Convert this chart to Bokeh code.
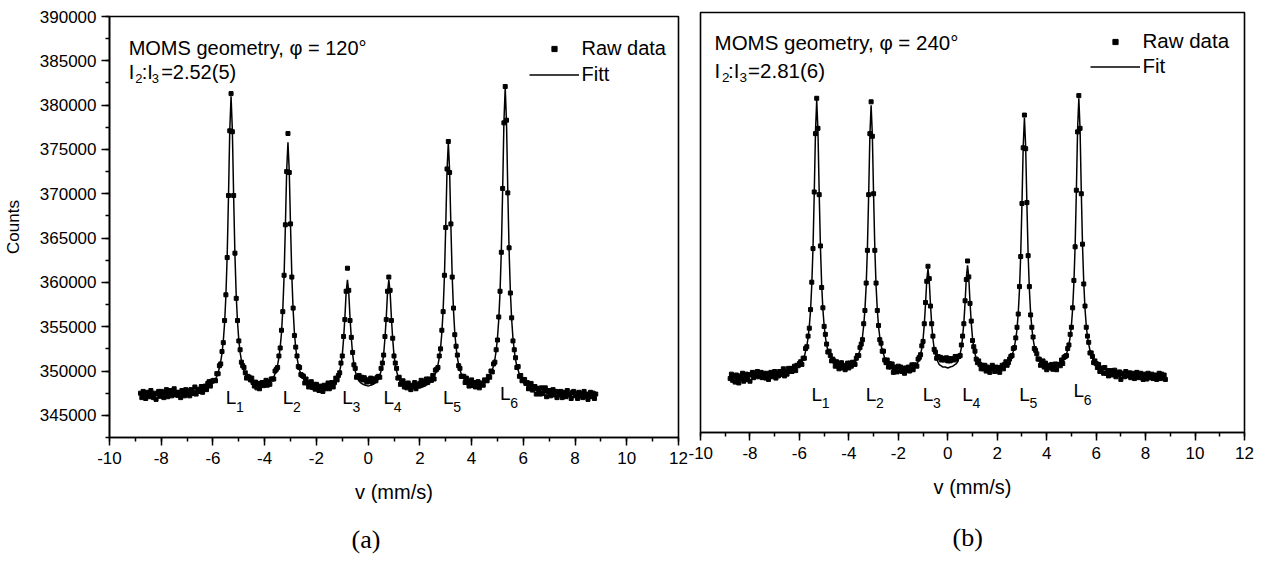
import numpy as np
from bokeh.plotting import figure
from bokeh.layouts import row, column
from bokeh.models import (Range1d, SingleIntervalTicker, BasicTickFormatter,
                          PrintfTickFormatter, Legend, LegendItem, Title)
from bokeh.core.properties import value
from bokeh.embed import file_html
from bokeh.resources import INLINE

# ---------------- data ----------------
V_START = -8.8          # first velocity channel (mm/s)
V_STEP = 0.05           # channel width (mm/s)

# panel (a): fitted curve, thousands of counts
FIT_A = [
    347.3, 347.3, 347.3, 347.3, 347.3, 347.3, 347.3, 347.3, 347.3, 347.3,
    347.3, 347.3, 347.3, 347.3, 347.3, 347.35, 347.4, 347.4, 347.4, 347.4,
    347.4, 347.4, 347.4, 347.4, 347.4, 347.4, 347.4, 347.4, 347.4, 347.45,
    347.5, 347.5, 347.5, 347.5, 347.5, 347.5, 347.5, 347.55, 347.6, 347.6,
    347.6, 347.65, 347.7, 347.7, 347.7, 347.75, 347.8, 347.85, 347.9, 347.95,
    348.0, 348.1, 348.2, 348.3, 348.4, 348.55, 348.7, 348.85, 349.1, 349.4,
    349.8, 350.4, 351.1, 352.0, 353.4, 355.4, 358.5, 363.0, 369.6, 377.2,
    381.0, 377.2, 369.7, 363.1, 358.5, 355.5, 353.5, 352.1, 351.2, 350.5,
    350.0, 349.6, 349.3, 349.1, 348.9, 348.8, 348.7, 348.6, 348.5, 348.45,
    348.4, 348.4, 348.4, 348.4, 348.4, 348.45, 348.5, 348.55, 348.6, 348.7,
    348.8, 348.9, 349.1, 349.3, 349.7, 350.1, 350.7, 351.5, 352.7, 354.3,
    356.9, 360.7, 366.3, 372.6, 375.8, 372.6, 366.3, 360.7, 356.9, 354.3,
    352.6, 351.5, 350.7, 350.1, 349.7, 349.3, 349.1, 348.85, 348.7, 348.6,
    348.5, 348.4, 348.3, 348.25, 348.2, 348.15, 348.1, 348.1, 348.1, 348.1,
    348.1, 348.1, 348.1, 348.1, 348.1, 348.15, 348.2, 348.3, 348.4, 348.5,
    348.6, 348.8, 349.1, 349.4, 350.0, 350.7, 351.8, 353.6, 356.0, 358.9,
    360.3, 358.9, 356.0, 353.7, 351.9, 350.8, 350.0, 349.5, 349.1, 348.9,
    348.7, 348.6, 348.5, 348.45, 348.4, 348.35, 348.3, 348.35, 348.4, 348.45,
    348.5, 348.6, 348.7, 348.9, 349.1, 349.5, 350.0, 350.8, 351.9, 353.7,
    356.0, 358.9, 360.3, 358.9, 356.0, 353.6, 351.8, 350.7, 350.0, 349.4,
    349.1, 348.8, 348.6, 348.5, 348.4, 348.3, 348.2, 348.15, 348.1, 348.1,
    348.1, 348.1, 348.1, 348.1, 348.1, 348.1, 348.1, 348.15, 348.2, 348.25,
    348.3, 348.4, 348.5, 348.6, 348.7, 348.85, 349.1, 349.3, 349.7, 350.1,
    350.7, 351.5, 352.6, 354.3, 356.9, 360.7, 366.3, 372.6, 375.8, 372.6,
    366.3, 360.7, 356.9, 354.3, 352.7, 351.5, 350.7, 350.1, 349.7, 349.3,
    349.1, 348.9, 348.8, 348.7, 348.6, 348.55, 348.5, 348.45, 348.4, 348.4,
    348.4, 348.4, 348.4, 348.45, 348.5, 348.6, 348.7, 348.85, 349.0, 349.2,
    349.4, 349.7, 350.1, 350.6, 351.3, 352.3, 353.7, 355.8, 358.9, 363.6,
    370.3, 378.1, 382.0, 378.1, 370.3, 363.6, 358.9, 355.8, 353.7, 352.3,
    351.3, 350.5, 350.1, 349.6, 349.2, 349.0, 348.7, 348.55, 348.4, 348.3,
    348.2, 348.1, 348.0, 347.95, 347.9, 347.85, 347.8, 347.75, 347.7, 347.7,
    347.7, 347.65, 347.6, 347.6, 347.6, 347.55, 347.5, 347.5, 347.5, 347.5,
    347.5, 347.5, 347.5, 347.45, 347.4, 347.4, 347.4, 347.4, 347.4, 347.4,
    347.4, 347.4, 347.4, 347.4, 347.4, 347.4, 347.4, 347.35, 347.3, 347.3,
    347.3, 347.3, 347.3, 347.3, 347.3, 347.3, 347.3, 347.3, 347.3, 347.3,
    347.3, 347.3, 347.3,
]
# panel (a): raw data minus fit, hundreds of counts (one line per stretch)
RES_A = [
    2, -3, 4, -1, -4, 3, 1, -2, 5, 0, -3, 2, -5, 1, 4, -2, 3, -1, -4, 2,
    5, -3, 1, 4, -2, 3, 6, -1, 2, -2, 1, -5, 3, 0, -3, 4, -1, 2, -4, 3,
    1, -2, 5, -3, 0, 2, -1, 4, -3, 1, 3, -2, 4, 5, -1, 3, 2,
    1, -2, 3, -1, 2, -3, 2, -2, 3, 1, -2, 2, -1, 3, -2, 1, 2, -3, 2, -1, 3, -2, 1, 4, 2, -1, 3,
    4, 2, 5, 1, -2, 3, -3, 2, -4, 1, 3, -1, 2, 4, -2, 1, -3, 2, 0,
    -2, 3, 1, -3, 2, -1, 3, -2, 1, 2, -1, 10, -2, 3, -1, 2, -3, 1, 2, -2, 3, -1, 2,
    3, -2, 4, 1, -3, 2, 5, -1, 3, -2, 4, 0, -3, 2, 1, -4, 3, -1, 2, 5, -2, 0, 3, -3, 1, 4, -1,
    1, -2, 2, -1, 3, -2, 1, 13, 2, -3, 1, 2, -1, 3, -2,
    3, 6, 4, 7, 5, 8, 6, 4, 7, 5, 8, 3, 6, 5, 2, 4, 3,
    -2, 3, 1, -1, 2, -2, 1, 3, 2, -3, 1, -1, 2, 3, -2,
    2, -3, 1, 4, -2, 3, -1, 5, 2, -2, 3, 1, 6, -1, 4, 2, 5, 8, 3, 6, 4, 7, 2, 5, 3, 1, 4,
    -2, 4, 1, -3, 2, -1, 3, -2, 1, -1, 2, 1, -2, 3, -1, 2, -2, 1, 3, -1, 2, -3, 1,
    3, -2, 4, 1, -3, 2, 5, -1, 3, -2, 1, 4, -3, 2, 0, -2, 3, 1, -1,
    2, -1, 3, -2, 2, -3, 1, -2, 3, 1, -2, 3, -1, 1, 2, -2, 3, -1, 2, -3, 1, 2, -1, 4, -2, 3, -1,
    3, 5, 2, 4, -2, 3, 6, -1, 2, 4, -4, 3, 1, -3, 4, -2, 2, 5, -5, 1,
    3, -3, 0, 4, -2, 2, -5, 2, -1, 3, -4, 1, 2, -3, 4, -1, 0, -5, 2, 3,
    -2, 1, -4, 3, -1, 2, -3, 4, -2, 1, -5, 0, 3, -2, 2, -4, 1,
]

# panel (b): fitted curve, thousands of counts
FIT_B = [
    348.8, 348.8, 348.8, 348.8, 348.8, 348.8, 348.8, 348.8, 348.8, 348.8,
    348.8, 348.8, 348.8, 348.8, 348.8, 348.85, 348.9, 348.9, 348.9, 348.9,
    348.9, 348.9, 348.9, 348.9, 348.9, 348.9, 348.9, 348.9, 348.9, 348.95,
    349.0, 349.0, 349.0, 349.0, 349.0, 349.0, 349.0, 349.05, 349.1, 349.1,
    349.1, 349.15, 349.2, 349.2, 349.2, 349.25, 349.3, 349.35, 349.4, 349.45,
    349.5, 349.55, 349.6, 349.7, 349.8, 349.95, 350.1, 350.3, 350.5, 350.8,
    351.1, 351.7, 352.3, 353.2, 354.5, 356.3, 359.2, 363.4, 369.5, 376.5,
    380.1, 376.6, 369.6, 363.5, 359.2, 356.4, 354.6, 353.3, 352.4, 351.8,
    351.3, 351.0, 350.7, 350.5, 350.3, 350.2, 350.1, 350.05, 350.0, 349.95,
    349.9, 349.9, 349.9, 349.9, 349.9, 349.95, 350.0, 350.05, 350.1, 350.25,
    350.4, 350.5, 350.7, 351.0, 351.4, 351.8, 352.4, 353.3, 354.6, 356.4,
    359.1, 363.3, 369.3, 376.1, 379.5, 376.1, 369.3, 363.3, 359.1, 356.4,
    354.5, 353.3, 352.4, 351.8, 351.4, 350.9, 350.7, 350.5, 350.3, 350.2,
    350.1, 349.95, 349.8, 349.75, 349.7, 349.65, 349.6, 349.6, 349.6, 349.6,
    349.6, 349.6, 349.6, 349.6, 349.6, 349.65, 349.7, 349.75, 349.9, 349.95,
    350.0, 350.2, 350.5, 350.8, 351.4, 352.0, 353.0, 354.7, 357.0, 359.7,
    361.0, 359.7, 357.0, 354.7, 353.1, 352.0, 351.4, 350.8, 350.5, 350.2,
    350.1, 350.0, 349.9, 349.9, 349.9, 349.85, 349.8, 349.85, 349.9, 349.95,
    350.0, 350.1, 350.2, 350.3, 350.5, 350.9, 351.4, 352.1, 353.3, 354.9,
    357.2, 360.0, 361.4, 360.0, 357.2, 354.9, 353.2, 352.1, 351.4, 350.9,
    350.6, 350.3, 350.1, 350.0, 349.9, 349.8, 349.7, 349.65, 349.6, 349.6,
    349.6, 349.6, 349.6, 349.6, 349.6, 349.6, 349.6, 349.65, 349.7, 349.75,
    349.8, 349.9, 350.0, 350.1, 350.2, 350.4, 350.6, 350.9, 351.3, 351.7,
    352.3, 353.1, 354.2, 356.0, 358.7, 362.6, 368.3, 374.8, 378.1, 374.8,
    368.3, 362.6, 358.7, 356.0, 354.3, 353.1, 352.3, 351.7, 351.2, 350.9,
    350.6, 350.4, 350.3, 350.2, 350.1, 350.05, 350.0, 349.95, 349.9, 349.9,
    349.9, 349.85, 349.8, 349.85, 349.9, 350.0, 350.1, 350.25, 350.4, 350.5,
    350.7, 351.0, 351.4, 351.8, 352.5, 353.3, 354.6, 356.5, 359.4, 363.6,
    369.7, 376.8, 380.3, 376.8, 369.7, 363.6, 359.4, 356.5, 354.6, 353.3,
    352.5, 351.8, 351.4, 350.9, 350.5, 350.3, 350.1, 349.95, 349.8, 349.7,
    349.6, 349.5, 349.4, 349.35, 349.3, 349.3, 349.3, 349.25, 349.2, 349.2,
    349.2, 349.15, 349.1, 349.1, 349.1, 349.05, 349.0, 349.0, 349.0, 349.0,
    349.0, 349.0, 349.0, 348.95, 348.9, 348.9, 348.9, 348.9, 348.9, 348.9,
    348.9, 348.9, 348.9, 348.9, 348.9, 348.9, 348.9, 348.85, 348.8, 348.8,
    348.8, 348.8, 348.8, 348.8, 348.8, 348.8, 348.8, 348.8, 348.8, 348.8,
    348.8, 348.8, 348.8,
]
# panel (b): raw data minus fit, hundreds of counts (one line per stretch)
RES_B = [
    -2, 3, -4, 1, -6, 2, -3, -7, 1, -2, 4, -5, 0, 3, -3, 2, -6, 1, 4, -2,
    3, 0, 5, -1, 2, 4, -2, 3, 1, -3, 2, -5, -1, 3, -2, 0, 4, -4, 1, -2,
    3, -1, 2, 5, -3, 1, -2, 4, 0, 3, -1, 2, 4, -2, 3, 1, 2,
    2, -3, 1, -2, 3, -1, 2, -2, 1, 3, -1, 2, -2, 2, 3, -2, 1, -3, 2, -1, 3, 1, -2, 4, 2, -1, 3,
    3, -2, 4, 0, -3, 2, 5, -1, 2, -3, 1, 4, -2, 3, -1, 2, 0, -3, 2,
    2, -2, 3, 1, -3, 2, -1, 3, -2, 1, 2, 4, -1, 2, -2, 3, -1, 1, -3, 2, -1, 3, -2,
    -3, 2, -4, 1, -2, 3, -5, 0, 2, -3, 4, -1, 3, -2, 1, -4, 2, 0, 3, -2, -1, 4, -3, 2, 1, -2, 3,
    2, -1, 3, -2, 1, 2, -1, 3, 2, -2, 1, 3, -1, 2, 1,
    6, 8, 9, 7, 10, 8, 9, 11, 8, 10, 7, 9, 8, 6, 9, 5, 6,
    2, -2, 3, 1, -1, 2, -2, 5, 1, -1, 2, -3, 1, 3, -1,
    -2, 3, 1, -3, 2, -1, 4, -2, 3, 0, -3, 2, 5, 1, -2, 3, -1, 2, -4, 1, 3, -2, 2, 4, -1, 0, 2,
    2, -1, 3, -2, 1, 2, -1, 3, -2, 1, -1, 3, -2, 2, -1, 3, -2, 1, 2, -3, 1, 2, -1,
    2, -3, 1, 4, -2, 3, -4, 1, 2, -1, 3, -2, 0, 4, -3, 2, 1, -2, 3,
    -2, 3, 1, -2, 2, -1, 3, -2, 1, 3, -1, 2, -3, 3, 1, -2, 2, -1, 3, -2, 1, 2, -3, 1, 2, -1, 3,
    2, -1, 4, -3, 1, 3, -2, 5, -1, 2, -4, 1, 3, -2, 0, 4, -3, 2, -1, 3,
    -5, 1, 2, -2, 4, -1, 0, 3, -2, 1, 3, -3, 2, 4, -1, -2, 3, 0, -4, 2,
    1, -3, 4, 2, -1, 3, -2, 0, 2, -3, 1, 4, -2, 3, -1, 2, -3,
]

PEAK_POS = [-5.3, -3.1, -0.8, 0.8, 3.1, 5.3]
PEAK_SUB = ["1", "2", "3", "4", "5", "6"]
LABEL_Y_A = [347000, 347000, 347000, 347000, 347000, 347450]
LABEL_Y_B = [346800, 346800, 346800, 346800, 346800, 347250]

X_RANGE = (-10, 12)
Y_RANGE = (342500, 390000)

SANS = "Liberation Sans"
SERIF = "Liberation Serif"

assert len(FIT_A) == len(RES_A) == len(FIT_B) == len(RES_B) == 353


def velocities(n):
    return np.round(V_START + V_STEP * np.arange(n), 3)


def put_text(p, x, y, s, size, dx=0, dy=0, align="left", baseline="alphabetic"):
    p.text(x=[x], y=[y], text=[s], x_offset=dx, y_offset=dy,
           text_align=align, text_baseline=baseline,
           text_font=value(SANS), text_font_size=value(f"{size}px"),
           text_color="black")


def make_panel(fit_k, res_h, width, borders, with_y, fit_name, legend_loc,
               legend_font, row_h, legend_spacing, title_lines, ratio_pieces,
               label_y, tag, tag_offset, tag_standoff):
    left, right, top, bottom = borders
    p = figure(width=width, height=571, output_backend="svg", toolbar_location=None,
               title=None,
               x_range=Range1d(*X_RANGE), y_range=Range1d(*Y_RANGE),
               y_axis_location="left" if with_y else None,
               min_border_left=left, min_border_right=right,
               min_border_top=top, min_border_bottom=bottom,
               background_fill_color="white", border_fill_color="white")
    p.xgrid.visible = False
    p.ygrid.visible = False
    p.outline_line_color = "black"
    p.outline_line_width = 1.6
    p.outline_line_alpha = 1.0

    xa = p.xaxis[0]
    xa.ticker = SingleIntervalTicker(interval=2, num_minor_ticks=2)
    xa.formatter = PrintfTickFormatter(format="%d")
    xa.axis_label = "v (mm/s)"
    xa.axis_label_text_font = SANS
    xa.axis_label_text_font_size = "20px"
    xa.axis_label_text_font_style = "normal"
    xa.axis_label_standoff = 14
    xa.major_label_text_font = SANS
    xa.major_label_text_font_size = "17px"
    xa.major_label_standoff = 6
    for ax in [xa] + ([p.yaxis[0]] if with_y else []):
        ax.axis_line_color = "black"
        ax.axis_line_width = 1.6
        ax.major_tick_line_color = "black"
        ax.major_tick_line_width = 1.5
        ax.minor_tick_line_color = "black"
        ax.minor_tick_line_width = 1.5
        ax.major_tick_out = 8
        ax.major_tick_in = 0
        ax.minor_tick_out = 4
        ax.minor_tick_in = 0
        ax.major_label_text_color = "black"
        ax.axis_label_text_color = "black"

    if with_y:
        ya = p.yaxis[0]
        ya.ticker = SingleIntervalTicker(interval=5000, num_minor_ticks=2)
        ya.formatter = BasicTickFormatter(use_scientific=False)
        ya.axis_label = "Counts"
        ya.axis_label_text_font = SANS
        ya.axis_label_text_font_size = "17px"
        ya.axis_label_text_font_style = "normal"
        ya.axis_label_standoff = 14
        ya.major_label_text_font = SANS
        ya.major_label_text_font_size = "17px"
        ya.major_label_standoff = 5

    v = velocities(len(fit_k))
    fit = np.array(fit_k) * 1000.0
    raw = fit + np.array(res_h) * 100.0

    r_pts = p.scatter(v, raw, marker="square", size=4, color="black")
    r_fit = p.line(v, fit, line_width=1.5, color="black")

    leg = Legend(items=[LegendItem(label="Raw data", renderers=[r_pts]),
                        LegendItem(label=fit_name, renderers=[r_fit])],
                 location=legend_loc, orientation="vertical",
                 border_line_alpha=0, background_fill_alpha=0,
                 padding=0, margin=0, spacing=legend_spacing,
                 glyph_width=50, glyph_height=13, label_height=row_h,
                 label_standoff=3, label_text_font=SANS,
                 label_text_font_size=legend_font, label_text_color="black")
    p.add_layout(leg)

    # header annotation
    (hx, hy, htext, hsize) = title_lines
    put_text(p, hx, hy, htext, hsize)
    (rx, ry, pieces) = ratio_pieces
    for s, dx, dy, size in pieces:
        put_text(p, rx, ry, s, size, dx=dx, dy=dy)

    # line labels L1..L6
    p.text(x=PEAK_POS, y=label_y, text=["L"] * len(PEAK_POS),
           text_align="center", text_baseline="middle",
           text_font=value(SANS), text_font_size=value("19px"), text_color="black")
    p.text(x=PEAK_POS, y=label_y, text=PEAK_SUB, x_offset=5, y_offset=9,
           text_align="left", text_baseline="middle",
           text_font=value(SANS), text_font_size=value("14px"), text_color="black")

    p.add_layout(Title(text=tag, align="left", offset=tag_offset,
                       standoff=tag_standoff, text_font=SERIF,
                       text_font_size="26px", text_font_style="normal",
                       text_color="black"), "below")
    return p


pa = make_panel(
    FIT_A, RES_A, 688, (109, 10, 16, 133), True, "Fitt", (419.5, 351.5), "20px", 23, 3,
    (-9.26, 386390, "MOMS geometry, \u03c6 = 120\u00b0", 20),
    (-9.26, 383790, [("I", 0, 0, 20), ("2", 6.5, 7, 13), (":I", 13, 0, 20),
                     ("3", 23, 7, 13), ("=2.52(5)", 32.5, 0, 20)]),
    LABEL_Y_A, "(a)", 242, 35)

pb = make_panel(
    FIT_B, RES_B, 577, (12, 21, 12, 138), False, "Fit", (389.5, 354), "20.5px", 22, 1,
    (-9.43, 386600, "MOMS geometry, \u03c6 = 240\u00b0", 20.5),
    (-9.43, 383450, [("I", 0, 0, 20.5), ("2", 7.5, 7, 13.5), (":I", 13.5, 0, 20.5),
                     ("3", 25, 7, 13.5), ("=2.81(6)", 33.5, 0, 20.5)]),
    LABEL_Y_B, "(b)", 252, 40)

layout = row(column(pa), column(pb), spacing=0)
open("out.html", "w").write(file_html(layout, INLINE))
